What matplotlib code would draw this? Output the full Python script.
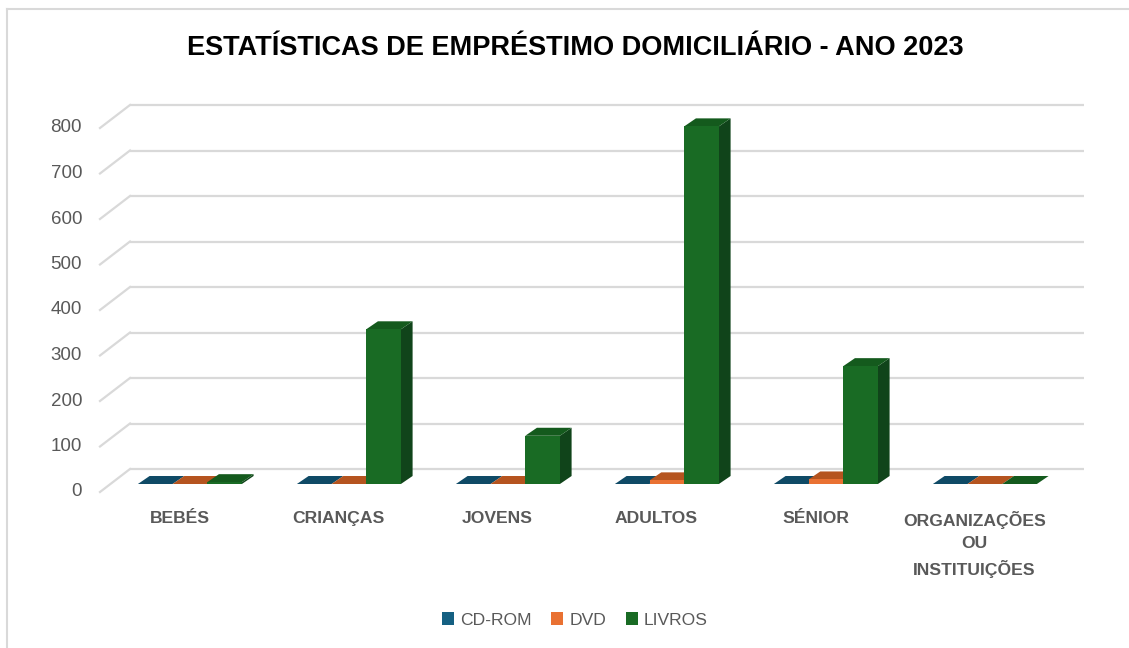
import matplotlib
matplotlib.use("Agg")
import matplotlib.pyplot as plt
from matplotlib.patches import Polygon, Patch
from matplotlib.lines import Line2D

# ---------------- data ----------------
categories = ["BEBÉS", "CRIANÇAS", "JOVENS", "ADULTOS", "SÉNIOR",
              "ORGANIZAÇÕES\nOU\nINSTITUIÇÕES"]
series_names = ["CD-ROM", "DVD", "LIVROS"]
cdrom = [0, 0, 0, 0, 0, 0]
dvd = [0, 0, 0, 8, 10, 0]
livros = [4, 340, 106, 786, 259, 0]
yticks = [0, 100, 200, 300, 400, 500, 600, 700, 800]
title = "ESTATÍSTICAS DE EMPRÉSTIMO DOMICILIÁRIO - ANO 2023"

series = [cdrom, dvd, livros]
front_c = ["#156082", "#E97132", "#196B24"]
top_c = ["#0f4a66", "#b5541f", "#145a1d"]
side_c = ["#0c3a50", "#9c4616", "#10441a"]
grid_c = "#d9d9d9"
text_c = "#595959"

W, H = 1129, 648
fig = plt.figure(figsize=(W / 100, H / 100), dpi=100)
fig.patch.set_facecolor("white")

# layout of the bar plane (pixels)
X0PX, XSTEP = 189.9, 159.0
Y0PX, YSCALE = 484.0, 0.455
xlim = (-0.62, 5.7)
ylim = (-30, 850)
left_px = X0PX + XSTEP * xlim[0]
right_px = X0PX + XSTEP * xlim[1]
bottom_px = Y0PX - YSCALE * ylim[0]
top_px = Y0PX - YSCALE * ylim[1]
ax = fig.add_axes([left_px / W, 1 - bottom_px / H,
                   (right_px - left_px) / W, (bottom_px - top_px) / H])
ax.set_xlim(xlim)
ax.set_ylim(ylim)
ax.axis("off")

BACK_DX, BACK_DY = 19.6 / XSTEP, 15 / YSCALE
FRONT_DX, FRONT_DY = 10.4 / XSTEP, 8 / YSCALE
BAR_DX, BAR_DY = 11.7 / XSTEP, 8 / YSCALE

n = len(categories)
# walls / gridlines
for v in yticks:
    ax.plot([-0.5 + BACK_DX, n - 0.5 + BACK_DX], [v + BACK_DY] * 2,
            color=grid_c, lw=1.6, zorder=1, clip_on=False, solid_capstyle="butt")
    ax.plot([-0.5 - FRONT_DX, -0.5 + BACK_DX], [v - FRONT_DY, v + BACK_DY],
            color=grid_c, lw=1.6, zorder=1, clip_on=False)
    ax.text(-0.5 - FRONT_DX - 18 / XSTEP, v - FRONT_DY, str(v),
            ha="right", va="center", fontsize=13.5, color=text_c,
            family="Liberation Sans")

# bars
group_w = 0.654
bw = group_w / 3
for j, vals in enumerate(series):
    xs = [i - group_w / 2 + j * bw for i in range(n)]
    ax.bar(xs, vals, width=bw, align="edge", color=front_c[j], linewidth=0,
           zorder=3 + 2 * j)
    for x0, v in zip(xs, vals):
        top = Polygon([(x0, v), (x0 + bw, v), (x0 + bw + BAR_DX, v + BAR_DY),
                       (x0 + BAR_DX, v + BAR_DY)], closed=True,
                      facecolor=top_c[j], edgecolor="none", zorder=2 + 2 * j)
        side = Polygon([(x0 + bw, 0), (x0 + bw + BAR_DX, BAR_DY),
                        (x0 + bw + BAR_DX, v + BAR_DY), (x0 + bw, v)],
                       closed=True, facecolor=side_c[j], edgecolor="none",
                       zorder=2 + 2 * j)
        ax.add_patch(side)
        ax.add_patch(top)

# category labels
for i, lab in enumerate(categories):
    ax.annotate(lab, xy=(i - FRONT_DX, 0), xytext=(0, -27),
                textcoords="offset pixels", ha="center", va="top",
                fontsize=12.6, fontweight="bold", color=text_c,
                family="Liberation Sans", linespacing=1.6,
                annotation_clip=False)

# title
fig.text(575 / W, 1 - 48 / H, title, ha="center", va="center", fontsize=19.5,
         fontweight="bold", color="black", family="Liberation Sans")

# legend
handles = [Patch(facecolor=front_c[j], edgecolor="none") for j in range(3)]
leg = fig.legend(handles, series_names, loc="center",
                 bbox_to_anchor=(575 / W, 1 - 620 / H), ncol=3, frameon=False,
                 handlelength=0.7, handleheight=0.7, handletextpad=0.35,
                 columnspacing=1.1,
                 prop={"family": "Liberation Sans", "size": 12.6})
for t in leg.get_texts():
    t.set_color(text_c)

# chart border
fig.add_artist(Line2D([7 / W, 7 / W], [0, 1 - 9 / H], color=grid_c, lw=1.5))
fig.add_artist(Line2D([7 / W, 1], [1 - 9 / H, 1 - 9 / H], color=grid_c, lw=1.5))

fig.savefig("out.png", dpi=100, facecolor="white")
